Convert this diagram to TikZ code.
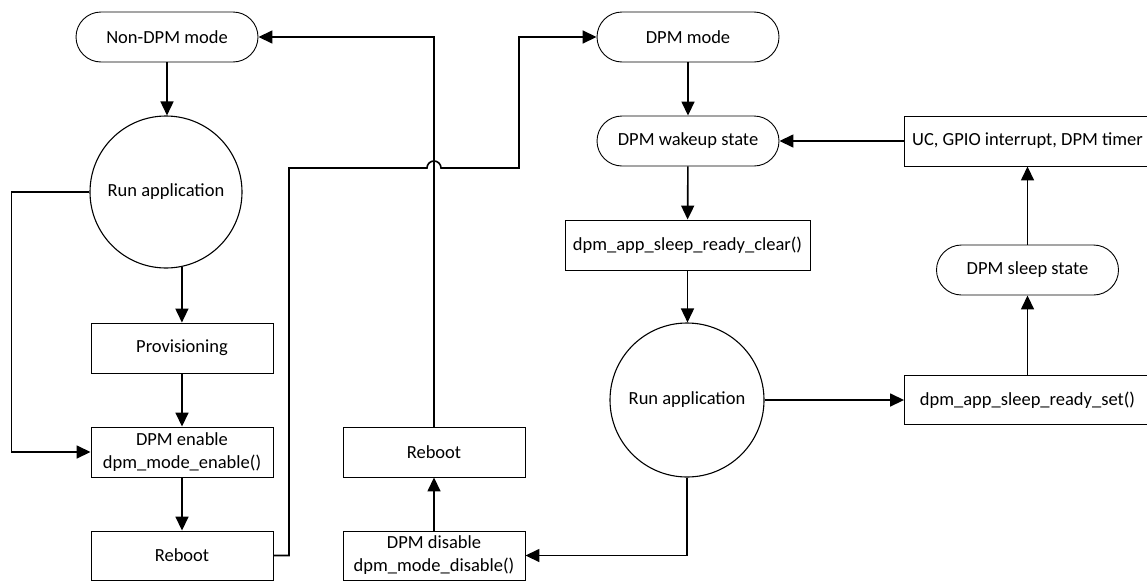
\documentclass[tikz,border=0pt]{standalone}
\usepackage{fontspec}
\setmainfont{Carlito}
\usetikzlibrary{arrows.meta}
\begin{document}
\begin{tikzpicture}[x=1pt,y=-1pt,
  lbl/.style={font=\fontsize{18.5}{23}\selectfont, align=center, inner sep=0pt},
  box/.style={lbl, draw, line width=0.9pt, minimum width=182pt, minimum height=50pt},
  pill/.style={box, rounded corners=25pt},
  bigcirc/.style={lbl, draw, circle, line width=1.1pt},
  wire/.style={line width=1.6pt},
  conn/.style={wire, -{Triangle[length=14pt,width=13pt]}}]
\useasboundingbox (0,0) rectangle (1147,581);

% non-DPM branch
\node[pill] (nondpm) at (167,37) {Non-DPM mode};
\node[bigcirc, minimum size=152pt] (runL) at (166,192) {Run application};
\node[box] (prov) at (182,348) {Provisioning};
\node[box] (en) at (182,452) {DPM enable\\dpm\_mode\_enable()};
\node[box, minimum height=49pt] (rebL) at (182,555.5) {Reboot};

% disable branch
\node[box] (rebM) at (434,452) {Reboot};
\node[box, minimum height=49pt] (dis) at (434,555.5) {DPM disable\\dpm\_mode\_disable()};

% DPM branch
\node[pill] (dpm) at (688,37) {DPM mode};
\node[pill] (wake) at (688,141) {DPM wakeup state};
\node[box, minimum width=245pt] (clear) at (687.5,245) {dpm\_app\_sleep\_ready\_clear()};
\node[bigcirc, minimum size=154pt] (runR) at (687,400) {Run application};
\node[box, minimum width=246pt, minimum height=49pt] (set) at (1027.5,400) {dpm\_app\_sleep\_ready\_set()};
\node[pill] (sleep) at (1027.5,270) {DPM sleep state};
\node[box, minimum width=247pt] (uc) at (1027.5,141) {UC, GPIO interrupt, DPM timer};

% connectors
\draw[conn] (nondpm.south) -- (nondpm.south |- runL.north);
\draw[conn] (runL.-78) -- (runL.-78 |- prov.north);
\draw[conn] (runL.west) -- ++(-78,0) |- (en.west);
\draw[conn] (prov) -- (en);
\draw[conn] (en) -- (rebL);

\coordinate (r1) at (289,168);
\coordinate (hop) at (434,168);
\coordinate (r2) at (519,168);
\draw[conn] (rebL.east) -| (r1) -- ([xshift=-7pt]hop)
  arc[start angle=180, end angle=0, radius=7pt] -- (r2) |- (dpm.west);

\draw[conn] (rebM.north) |- (nondpm.east);
\draw[conn] (dis) -- (rebM);
\draw[conn] (runR.south) |- (dis.east);

\draw[conn] (dpm) -- (wake);
\draw[conn] (wake) -- (clear);
\draw[conn] (clear.south) -- (clear.south |- runR.north);
\draw[conn] (runR.east) -- (runR.east -| set.west);
\draw[conn] (set) -- (sleep);
\draw[conn] (sleep) -- (uc);
\draw[conn] (uc.west) -- (wake.east);
\end{tikzpicture}
\end{document}
